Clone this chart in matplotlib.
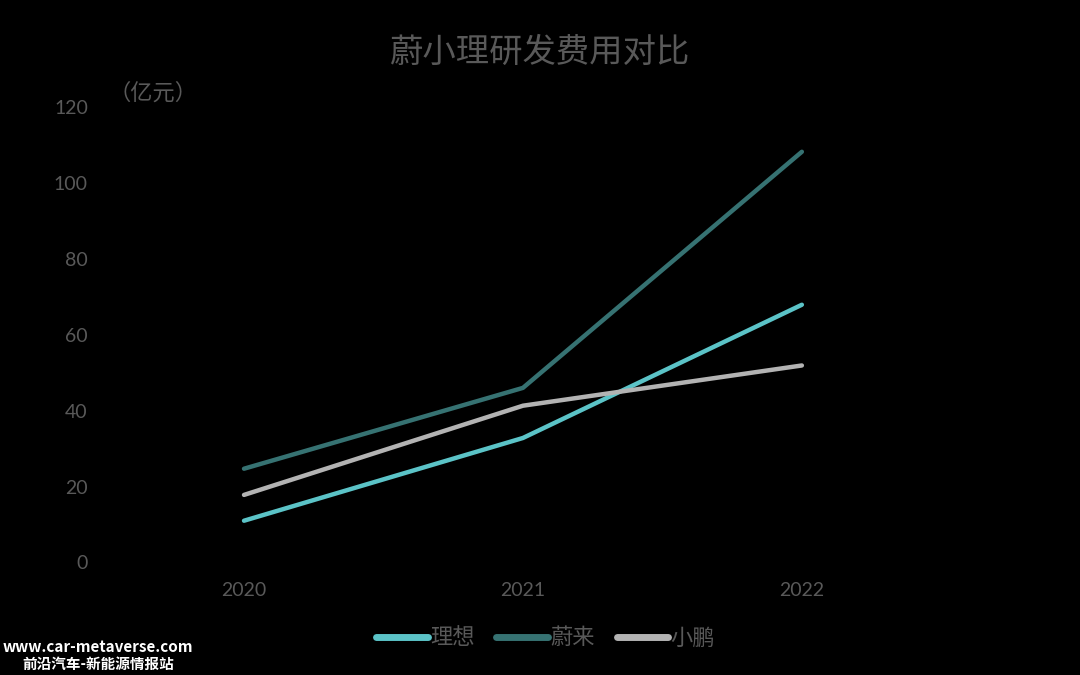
import matplotlib.pyplot as plt

plt.rcParams['font.family'] = ['Noto Sans CJK SC', 'DejaVu Sans']

# R&D expenses (亿元)
years = ['2020', '2021', '2022']
li_auto = [11.0, 32.8, 67.9]   # 理想
nio = [24.7, 46.0, 108.2]      # 蔚来
xpeng = [17.8, 41.3, 51.9]     # 小鹏
yticks = [0, 20, 40, 60, 80, 100, 120]

text_gray = '#595959'

fig = plt.figure(figsize=(10.8, 6.75), dpi=100, facecolor='black')
ax = fig.add_axes([0.0968, 0.1667, 0.7748, 0.6748], facecolor='black')

x = range(len(years))
ax.plot(x, li_auto, color='#5BC3C7', lw=3.2, label='理想', solid_capstyle='round')
ax.plot(x, nio, color='#367272', lw=3.2, label='蔚来', solid_capstyle='round')
ax.plot(x, xpeng, color='#B3B3B3', lw=3.2, label='小鹏', solid_capstyle='round')

ax.set_xlim(-0.5, 2.5)
ax.set_ylim(0, 120)
ax.set_xticks(list(x))
ax.set_xticklabels(years)
ax.set_yticks(yticks)
ax.tick_params(axis='both', length=0, colors=text_gray, labelsize=14)
ax.tick_params(axis='x', pad=14)
ax.tick_params(axis='y', pad=12)
for lab in ax.get_xticklabels() + ax.get_yticklabels():
    lab.set_family('Lato')
for s in ax.spines.values():
    s.set_visible(False)

fig.text(0.5, 0.923, '蔚小理研发费用对比', ha='center', va='center',
         fontsize=24, color=text_gray, fontweight='medium')
fig.text(0.1, 0.862, '（亿元）', ha='left', va='center', fontsize=16, color=text_gray)

leg = fig.legend(loc='center', bbox_to_anchor=(0.505, 0.055), ncol=3, frameon=False,
                 fontsize=16, handlelength=2.3, handletextpad=0.1, columnspacing=1.0,
                 labelcolor=text_gray)
for h in leg.get_lines():
    h.set_linewidth(5)

# watermark
fig.text(0.091, 0.042, 'www.car-metaverse.com', ha='center', va='center',
         fontsize=11, color='white', fontweight='heavy')
fig.text(0.091, 0.016, '前沿汽车-新能源情报站', ha='center', va='center',
         fontsize=10.5, color='white', fontweight='heavy')

fig.savefig('out.png', dpi=100, facecolor='black')
